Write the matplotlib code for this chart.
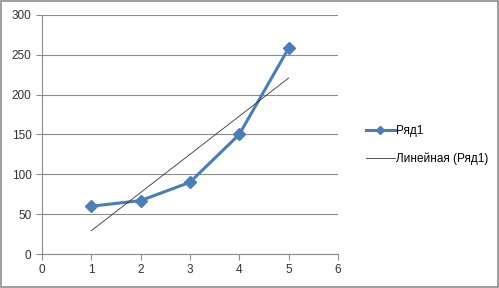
import matplotlib.pyplot as plt
import numpy as np
from matplotlib.patches import Rectangle

x_vals = [1, 2, 3, 4, 5]
y_vals = [60, 67, 90, 150, 258]
series_name = "Ряд1"
trend_name = "Линейная (Ряд1)"

plt.rcParams['font.family'] = ['Liberation Sans', 'DejaVu Sans']

fig = plt.figure(figsize=(4.99, 2.88), dpi=100)
ax = fig.add_axes([0.084, 0.118, 0.593, 0.830])

# linear trendline fitted to the series
k, b = np.polyfit(x_vals, y_vals, 1)
xt = np.array([x_vals[0], x_vals[-1]])

ax.plot(x_vals, y_vals, color='#4A7EBB', lw=2.2, marker='D', ms=6.5,
        label=series_name, zorder=3)
ax.plot(xt, k * xt + b, color='#333333', lw=0.6, label=trend_name, zorder=4)

ax.set_xlim(0, 6)
ax.set_ylim(0, 300)
ax.set_xticks(range(0, 7))
ax.set_yticks(range(0, 301, 50))
ax.grid(axis='y', color='#8c8c8c', lw=0.8)
ax.set_axisbelow(True)
for s in ['top', 'right']:
    ax.spines[s].set_visible(False)
for s in ['left', 'bottom']:
    ax.spines[s].set_color('#8c8c8c')
    ax.spines[s].set_linewidth(0.8)
ax.tick_params(colors='#8c8c8c', labelcolor='#333333', labelsize=8.5,
               length=4, width=0.8)

ax.legend(loc='center left', bbox_to_anchor=(1.06, 0.455), frameon=False,
          fontsize=8.5, handlelength=2.4, handletextpad=0.15, labelspacing=1.3,
          markerscale=0.6)

fig.patches.append(Rectangle((0.002, 0.003), 0.995, 0.993, transform=fig.transFigure,
                             fill=False, edgecolor='#8c8c8c', lw=1.2))

fig.savefig('out.png', dpi=100)
